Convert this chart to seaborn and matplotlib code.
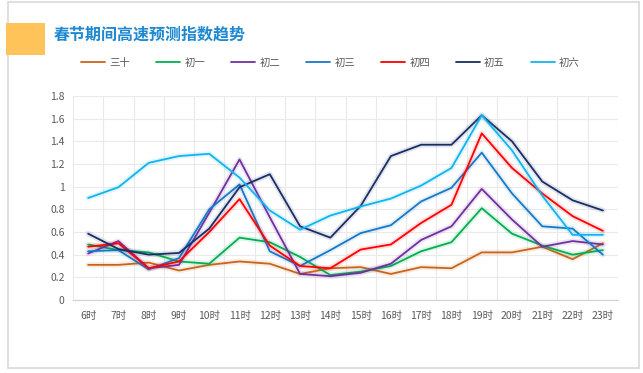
import pandas as pd
import matplotlib
matplotlib.use('Agg')
import matplotlib.pyplot as plt
import matplotlib.patheffects as pe
from matplotlib.patches import Rectangle
from matplotlib.ticker import FuncFormatter, MultipleLocator
import seaborn as sns

hours = ['6时', '7时', '8时', '9时', '10时', '11时', '12时', '13时', '14时',
         '15时', '16时', '17时', '18时', '19时', '20时', '21时', '22时', '23时']

san_shi = [0.31, 0.31, 0.33, 0.26, 0.31, 0.34, 0.32, 0.23, 0.28,
           0.29, 0.23, 0.29, 0.28, 0.42, 0.42, 0.47, 0.36, 0.50]
chu_yi = [0.49, 0.44, 0.42, 0.34, 0.32, 0.55, 0.51, 0.38, 0.22,
          0.25, 0.30, 0.43, 0.51, 0.81, 0.585, 0.48, 0.40, 0.44]
chu_er = [0.41, 0.52, 0.28, 0.31, 0.77, 1.24, 0.73, 0.23, 0.21,
          0.24, 0.32, 0.53, 0.65, 0.98, 0.71, 0.47, 0.52, 0.49]
chu_san = [0.43, 0.44, 0.27, 0.37, 0.80, 1.02, 0.43, 0.30, 0.44,
           0.59, 0.66, 0.87, 0.99, 1.30, 0.94, 0.65, 0.63, 0.40]
chu_si = [0.47, 0.50, 0.28, 0.34, 0.60, 0.89, 0.48, 0.30, 0.28,
          0.445, 0.49, 0.68, 0.84, 1.47, 1.165, 0.94, 0.74, 0.61]
chu_wu = [0.585, 0.45, 0.40, 0.415, 0.63, 0.995, 1.11, 0.65, 0.55,
          0.83, 1.27, 1.37, 1.37, 1.63, 1.40, 1.045, 0.88, 0.79]
chu_liu = [0.90, 0.995, 1.21, 1.27, 1.29, 1.08, 0.79, 0.62, 0.745,
           0.825, 0.895, 1.01, 1.165, 1.63, 1.32, 0.92, 0.575, 0.575]

series_names = ['三十', '初一', '初二', '初三', '初四', '初五', '初六']
series_values = [san_shi, chu_yi, chu_er, chu_san, chu_si, chu_wu, chu_liu]
colors = ['#C8651B', '#00B050', '#7030A0', '#1878C8', '#FF0000', '#1A2E66', '#10B4F0']

rows = []
for name, vals in zip(series_names, series_values):
    for h, v in zip(hours, vals):
        rows.append({'hour': h, 'day': name, 'value': v})
df = pd.DataFrame(rows)

sns.set_style('white')
plt.rcParams['font.family'] = ['Noto Sans CJK SC', 'DejaVu Sans']

fig = plt.figure(figsize=(6.43, 3.73), dpi=100)
ax = fig.add_axes([73 / 643, 1 - 300 / 373, (618 - 73) / 643, (300 - 96) / 373])

sns.lineplot(data=df, x='hour', y='value', hue='day', hue_order=series_names,
             palette=colors, sort=False, linewidth=1.3, ax=ax, legend=False)

# soft halo under each line
for line, c in zip(ax.get_lines(), colors):
    line.set_path_effects([pe.Stroke(linewidth=4, foreground=c, alpha=0.12), pe.Normal()])

ax.set_xlim(-0.5, len(hours) - 0.5)
ax.set_ylim(0, 1.8)
ax.yaxis.set_major_locator(MultipleLocator(0.2))
ax.yaxis.set_major_formatter(FuncFormatter(lambda v, p: '{:g}'.format(round(v, 1))))
ax.set_xticks(range(len(hours)))
ax.set_xticklabels(hours)
ax.set_xticks([i - 0.5 for i in range(len(hours) + 1)], minor=True)
ax.grid(False)
ax.grid(True, axis='y', which='major', color='#EAEAEA', linewidth=0.8)
ax.grid(True, axis='x', which='minor', color='#EAEAEA', linewidth=0.8)
ax.set_axisbelow(True)
for s in ['top', 'right', 'left']:
    ax.spines[s].set_visible(False)
ax.spines['bottom'].set_color('#D0D0D0')
ax.tick_params(axis='both', which='both', length=0, labelsize=7.5, colors='#595959')
ax.tick_params(axis='x', pad=8)
ax.tick_params(axis='y', pad=6)
ax.set_xlabel('')
ax.set_ylabel('')

# legend row
handles = [plt.Line2D([], [], color=c, linewidth=1.3) for c in colors]
fig.legend(handles, series_names, loc='center left', bbox_to_anchor=(72 / 643, 1 - 63 / 373),
           ncol=7, frameon=False, fontsize=7.5, handlelength=2.3, handletextpad=0.4,
           columnspacing=2.5, labelcolor='#595959')

# title and decoration
fig.patches.append(Rectangle((6 / 643, 1 - 55 / 373), 39 / 643, 32 / 373,
                             transform=fig.transFigure, facecolor='#FFC35A',
                             edgecolor='none', zorder=1))
fig.text(54 / 643, 1 - 35 / 373, '春节期间高速预测指数趋势', fontsize=11.5,
         fontweight='bold', color='#1E88D0', va='center', ha='left')
fig.patches.append(Rectangle((8 / 643, 5 / 373), 631 / 643, 366 / 373,
                             transform=fig.transFigure, facecolor='none',
                             edgecolor='#D9D9D9', linewidth=1.2, zorder=0))

fig.savefig('out.png', dpi=100)
